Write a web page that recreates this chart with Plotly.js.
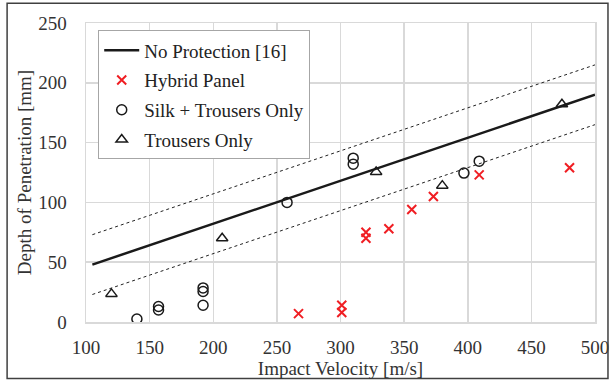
<!DOCTYPE html>
<html>
<head>
<meta charset="utf-8">
<script src="https://cdn.plot.ly/plotly-3.0.1.min.js"></script>
<style>
  html, body { margin: 0; padding: 0; background: #fff; }
  #chart { width: 611px; height: 381px; }
</style>
</head>
<body>
<div id="chart"></div>
<script>
// No Protection [16] reference line
const noProtX = [105, 200, 300, 400, 500];
const noProtY = [48, 82, 118, 154, 190];
// Dashed bounds
const boundX = [105, 500];
const upperY = [73, 215];
const lowerY = [23, 165];
// Hybrid Panel
const hybridX = [267, 301, 301, 320, 320, 338, 356, 373, 409, 480];
const hybridY = [7, 14, 8, 75, 70, 78, 94, 105, 123, 129];
// Silk + Trousers Only
const silkX = [140, 157, 157, 192, 192, 192, 258, 310, 310, 397, 409];
const silkY = [2.5, 13, 10, 28.5, 25.5, 14, 100, 137, 132, 124.5, 134.5];
// Trousers Only
const trousX = [120, 207, 328, 380, 474];
const trousY = [23.5, 70, 125.5, 114, 182];

const xTicks = [100, 150, 200, 250, 300, 350, 400, 450, 500];
const yTicks = [0, 50, 100, 150, 200, 250];

const FONT = "'Liberation Serif', 'Times New Roman', serif";
const GRID = '#d9d9d9';
const FS = 19;

const traces = [
  { x: boundX, y: upperY, mode: 'lines', showlegend: false, hoverinfo: 'skip', legendgroup: 'u',
    line: { color: '#222', width: 1, dash: '3px,3px' } },
  { x: boundX, y: lowerY, mode: 'lines', showlegend: false, hoverinfo: 'skip', legendgroup: 'l',
    line: { color: '#222', width: 1, dash: '3px,3px' } },
  { x: noProtX, y: noProtY, mode: 'lines', name: 'No Protection [16]', legendgroup: 'a',
    line: { color: '#1a1a1a', width: 2.5 } },
  { x: hybridX, y: hybridY, mode: 'markers', name: 'Hybrid Panel', legendgroup: 'b',
    marker: { symbol: 'x-thin-open', size: 9, color: '#f01e23', line: { color: '#f01e23', width: 2 } } },
  { x: silkX, y: silkY, mode: 'markers', name: 'Silk + Trousers Only', legendgroup: 'c',
    marker: { symbol: 'circle-open', size: 10, color: '#1a1a1a', line: { color: '#1a1a1a', width: 1.5 } } },
  { x: trousX, y: trousY, mode: 'markers', name: 'Trousers Only', legendgroup: 'd',
    marker: { symbol: 'triangle-up-open', size: 10, color: '#1a1a1a', line: { color: '#1a1a1a', width: 1.5 } } }
];

const layout = {
  width: 611, height: 381,
  margin: { l: 86, r: 16, t: 22.7, b: 58.7 },
  paper_bgcolor: '#fff', plot_bgcolor: '#fff',
  font: { family: FONT, size: FS, color: '#333' },
  showlegend: true,
  legend: {
    x: 0.024, y: 0.975, xanchor: 'left', yanchor: 'top',
    bgcolor: '#fff', bordercolor: '#a6a6a6', borderwidth: 1,
    font: { family: FONT, size: FS, color: '#222' },
    itemwidth: 35, traceorder: 'grouped', tracegroupgap: 2
  },
  xaxis: {
    range: [100, 500], tickvals: xTicks, ticktext: xTicks.map(String),
    showgrid: true, gridcolor: GRID, gridwidth: 1.5,
    showline: true, linecolor: GRID, linewidth: 1.5, mirror: true,
    zeroline: false, ticks: '', ticklabelstandoff: 8,
    tickfont: { family: FONT, size: FS, color: '#333' },
    title: { text: 'Impact Velocity [m/s]', standoff: 2, font: { family: FONT, size: FS, color: '#333' } }
  },
  yaxis: {
    range: [0, 250], tickvals: yTicks, ticktext: yTicks.map(String),
    showgrid: true, gridcolor: GRID, gridwidth: 1.5,
    showline: true, linecolor: GRID, linewidth: 1.5, mirror: true,
    zeroline: false, ticks: '', ticklabelstandoff: 14,
    tickfont: { family: FONT, size: FS, color: '#333' },
    title: { text: 'Depth of Penetration [mm]', standoff: 1, font: { family: FONT, size: FS, color: '#333' } }
  },
  shapes: [
    { type: 'rect', xref: 'paper', yref: 'paper',
      x0: -0.155, x1: 1.0255, y0: -0.189, y1: 1.066,
      line: { color: '#404040', width: 1.5 }, fillcolor: 'rgba(0,0,0,0)', layer: 'above' }
  ]
};

Plotly.newPlot('chart', traces, layout, { displayModeBar: false, staticPlot: true });
</script>
</body>
</html>
